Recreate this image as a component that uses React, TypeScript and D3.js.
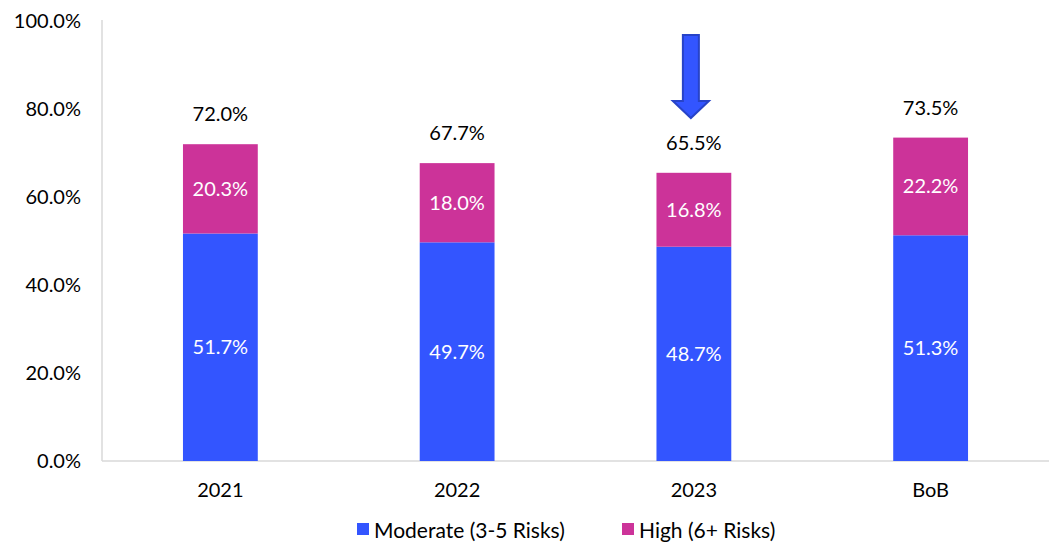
import { useEffect, useRef } from 'react';
import * as d3 from 'd3';

const categories = ['2021', '2022', '2023', 'BoB'];
const moderate = [51.7, 49.7, 48.7, 51.3];
const high = [20.3, 18.0, 16.8, 22.2];
const totals = [72.0, 67.7, 65.5, 73.5];
const yTicks = [0, 20, 40, 60, 80, 100];
const seriesNames = ['Moderate (3-5 Risks)', 'High (6+ Risks)'];
const colors = ['#3355FF', '#CC3399'];

const W = 1049;
const H = 542;
const FONT = 'Lato, "DejaVu Sans", sans-serif';

export default function App() {
  const ref = useRef<SVGSVGElement | null>(null);

  useEffect(() => {
    const el = ref.current;
    if (!el) return;
    const svg = d3.select(el);
    svg.selectAll('*').remove();

    const m = { left: 102, right: 0, top: 21, bottom: 81 };
    const x = d3.scaleBand<string>().domain(categories).range([m.left, W - m.right]).paddingInner(0.684).paddingOuter(0.342);
    const y = d3.scaleLinear().domain([0, 100]).range([H - m.bottom, m.top]);

    // axes
    svg.append('line')
      .attr('x1', m.left).attr('x2', m.left)
      .attr('y1', y(100) - 1).attr('y2', y(0))
      .attr('stroke', '#d9d9d9').attr('stroke-width', 1.5);
    svg.append('line')
      .attr('x1', m.left).attr('x2', W)
      .attr('y1', y(0)).attr('y2', y(0))
      .attr('stroke', '#d9d9d9').attr('stroke-width', 1.5);

    svg.append('g').selectAll('text').data(yTicks).join('text')
      .attr('x', 81).attr('y', (d) => y(d))
      .attr('dy', '0.35em')
      .attr('text-anchor', 'end')
      .attr('font-family', FONT).attr('font-size', 20).attr('fill', '#000')
      .text((d) => `${d.toFixed(1)}%`);

    svg.append('g').selectAll('text').data(categories).join('text')
      .attr('x', (d) => x(d)! + x.bandwidth() / 2)
      .attr('y', y(0) + 29)
      .attr('dy', '0.35em')
      .attr('text-anchor', 'middle')
      .attr('font-family', FONT).attr('font-size', 20).attr('fill', '#000')
      .text((d) => d);

    const bars = svg.append('g');
    categories.forEach((c, i) => {
      const bx = x(c)!;
      const bw = x.bandwidth();
      const cx = bx + bw / 2;
      bars.append('rect')
        .attr('x', bx).attr('width', bw)
        .attr('y', y(moderate[i])).attr('height', y(0) - y(moderate[i]))
        .attr('fill', colors[0]);
      bars.append('rect')
        .attr('x', bx).attr('width', bw)
        .attr('y', y(moderate[i] + high[i])).attr('height', y(moderate[i]) - y(moderate[i] + high[i]))
        .attr('fill', colors[1]);
      bars.append('text')
        .attr('x', cx).attr('y', (y(0) + y(moderate[i])) / 2)
        .attr('dy', '0.35em').attr('text-anchor', 'middle')
        .attr('font-family', FONT).attr('font-size', 20).attr('fill', '#fff')
        .text(`${moderate[i].toFixed(1)}%`);
      bars.append('text')
        .attr('x', cx).attr('y', (y(moderate[i]) + y(moderate[i] + high[i])) / 2)
        .attr('dy', '0.35em').attr('text-anchor', 'middle')
        .attr('font-family', FONT).attr('font-size', 20).attr('fill', '#fff')
        .text(`${high[i].toFixed(1)}%`);
      bars.append('text')
        .attr('x', cx).attr('y', y(totals[i]) - 30)
        .attr('dy', '0.35em').attr('text-anchor', 'middle')
        .attr('font-family', FONT).attr('font-size', 20).attr('fill', '#000')
        .text(`${totals[i].toFixed(1)}%`);
    });

    // arrow pointing at 2023
    const ax = x('2023')! + x.bandwidth() / 2 - 3;
    const top = 35, neck = 101, tip = 118, sw = 8, hw = 18;
    const pts: [number, number][] = [
      [ax - sw, top], [ax + sw, top], [ax + sw, neck], [ax + hw, neck],
      [ax, tip], [ax - hw, neck], [ax - sw, neck],
    ];
    svg.append('path')
      .attr('d', d3.line()(pts) + 'Z')
      .attr('fill', '#3355FF').attr('stroke', '#2743C8').attr('stroke-width', 2)
      .attr('stroke-linejoin', 'miter');

    // legend
    const lg = svg.append('g').attr('font-family', FONT).attr('font-size', 21);
    const lx = [357, 622];
    seriesNames.forEach((n, i) => {
      lg.append('rect').attr('x', lx[i]).attr('y', 523).attr('width', 12).attr('height', 12).attr('fill', colors[i]);
      lg.append('text').attr('x', lx[i] + 17).attr('y', 531).attr('dy', '0.35em').attr('fill', '#000').text(n);
    });
  }, []);

  return (
    <div style={{ position: 'absolute', left: 0, top: 0 }}>
      <svg ref={ref} width={W} height={H} style={{ display: 'block', background: '#fff' }} />
    </div>
  );
}
